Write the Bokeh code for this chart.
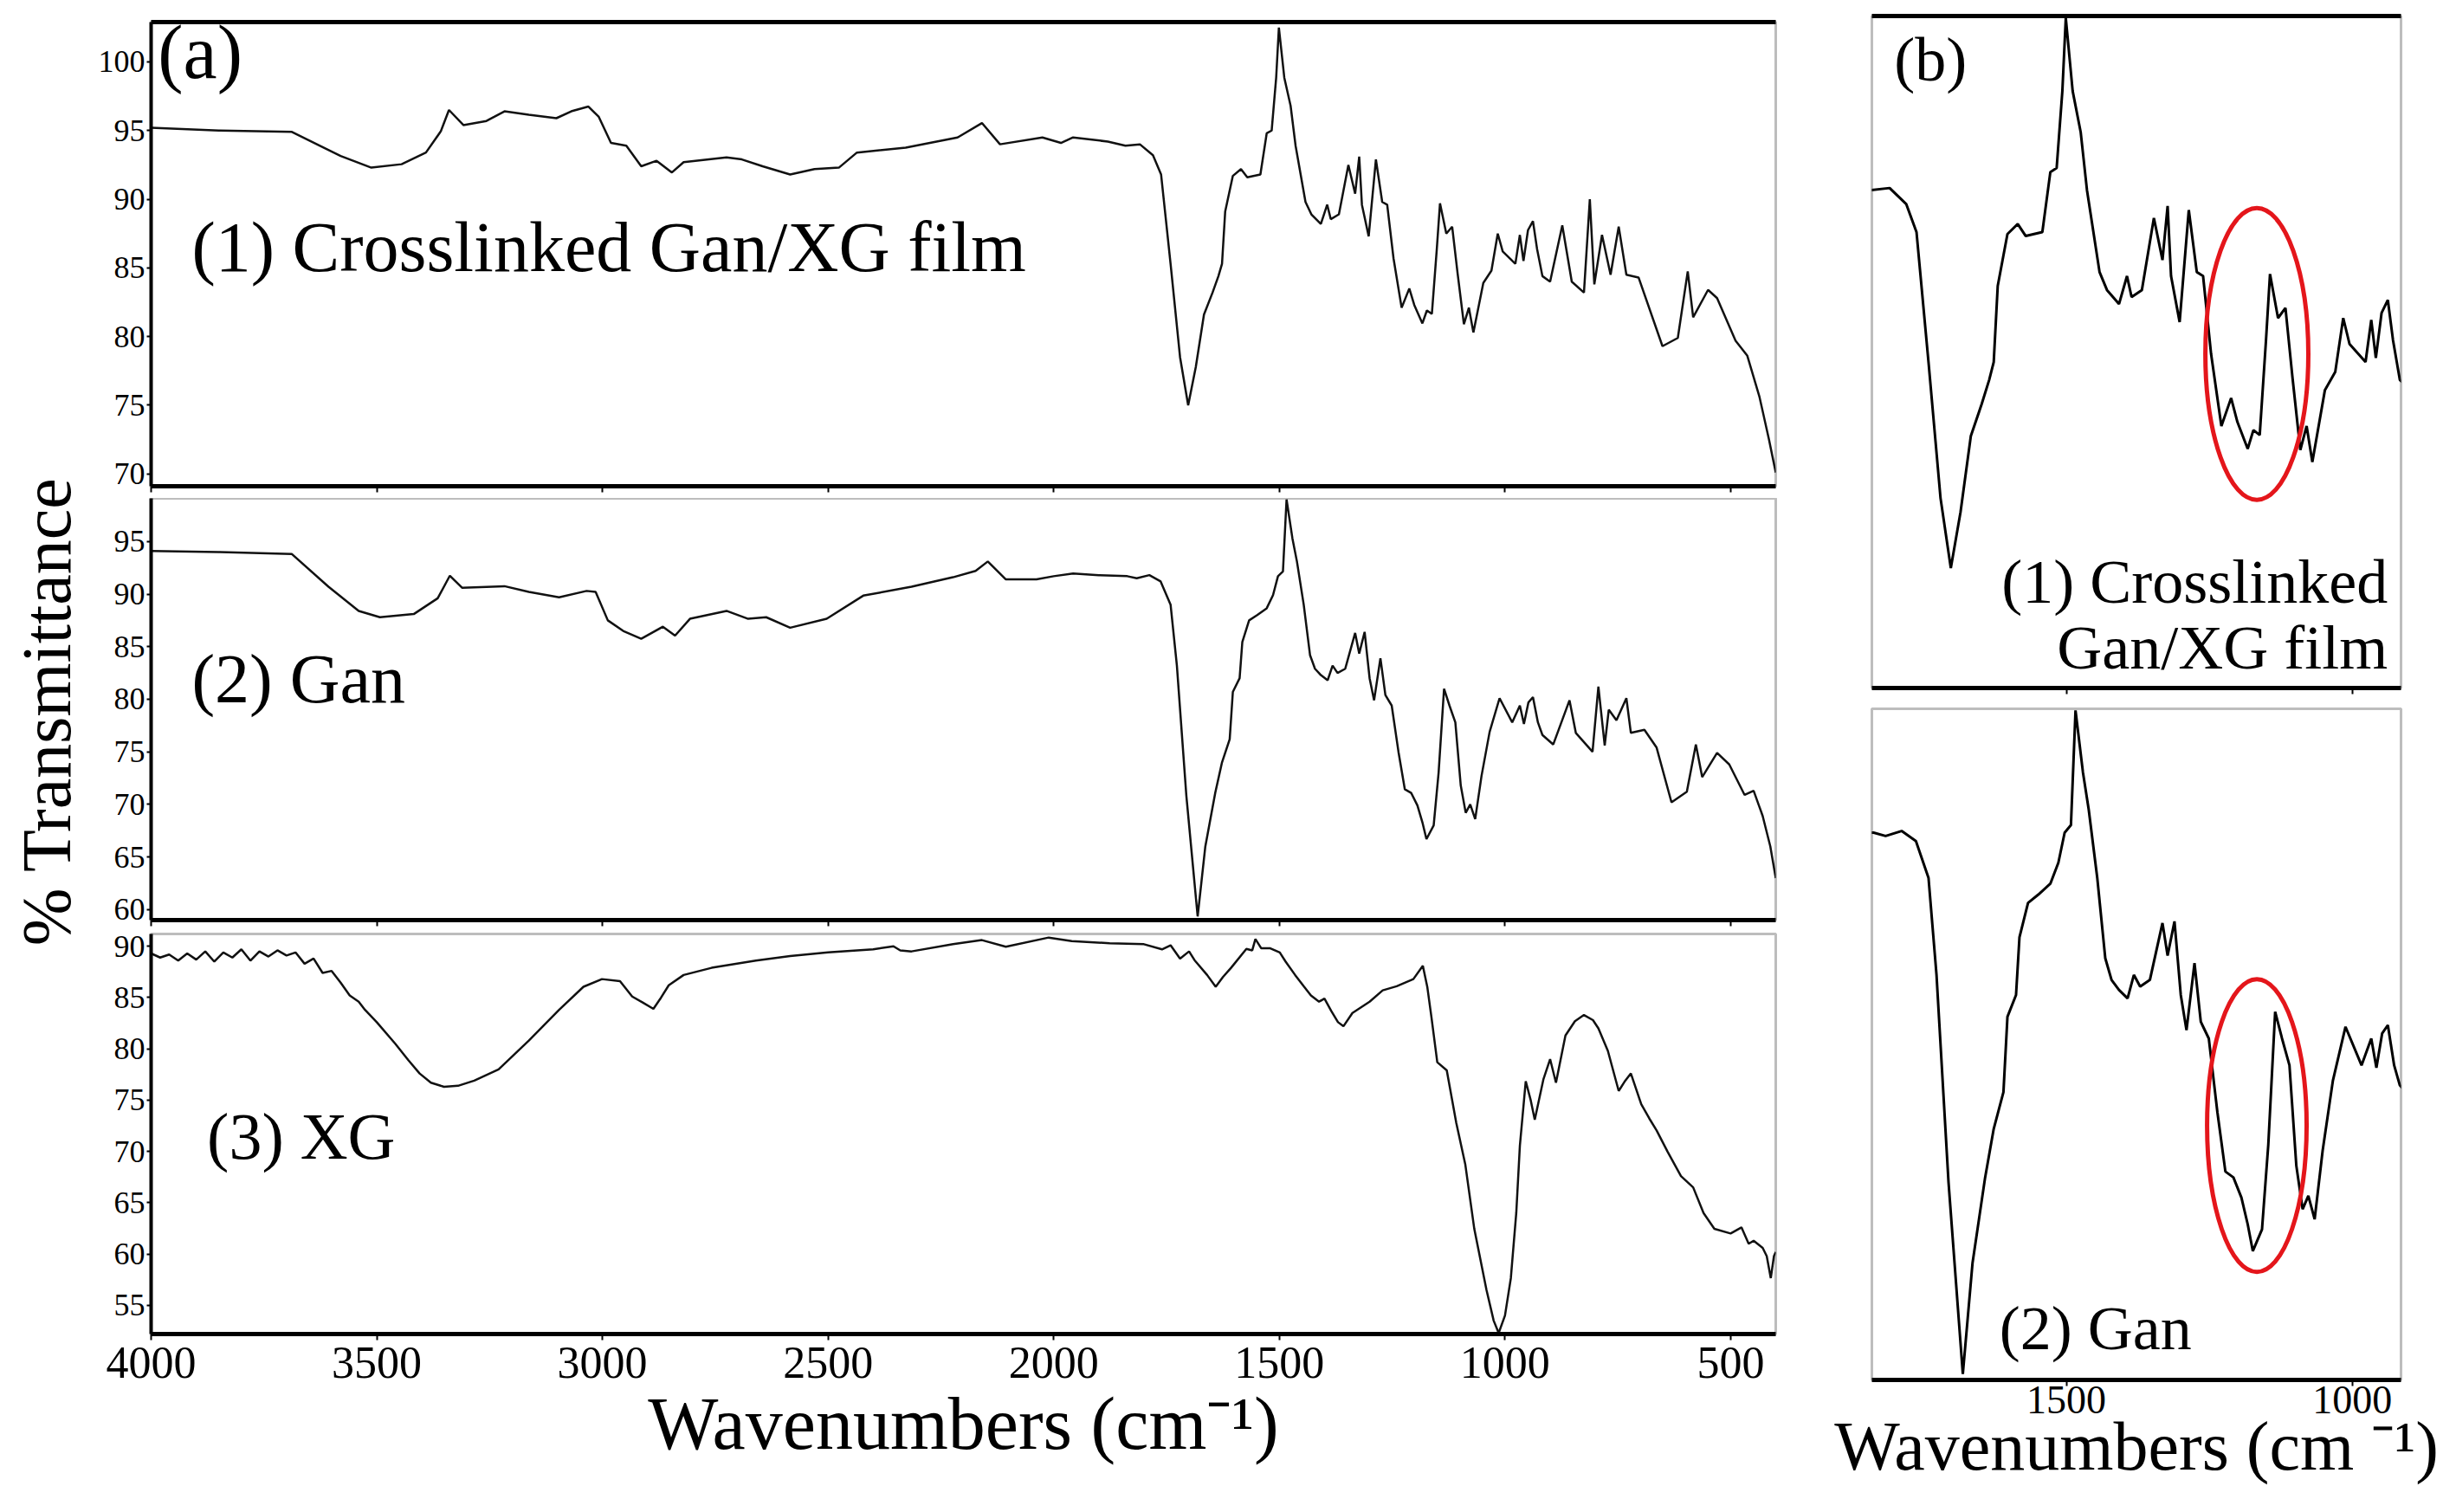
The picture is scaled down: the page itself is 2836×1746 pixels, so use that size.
import math
from bokeh.plotting import figure
from bokeh.layouts import row, column
from bokeh.models import Range1d, FixedTicker, LinearAxis, Label, CustomLabelingPolicy
from bokeh.embed import file_html
from bokeh.resources import INLINE

FONT = "Liberation Serif"

# ---------------- data ----------------
# (1) Crosslinked Gan/XG film
film_wn = [4000, 3850, 3688, 3620, 3580, 3512, 3445, 3391, 3358, 3340, 3308, 3257, 3217, 3163,
           3102, 3069, 3031, 3008, 2981, 2947, 2914, 2880, 2846, 2820, 2725, 2691, 2645, 2584,
           2530, 2476, 2436, 2328, 2213, 2159, 2119, 2025, 1984, 1957, 1880,
           1841, 1809, 1780, 1762, 1741, 1720, 1702, 1685, 1667, 1648, 1635, 1627, 1620, 1603,
           1585, 1571, 1542, 1528, 1517, 1507, 1501, 1489, 1475, 1464, 1442, 1429, 1408, 1394,
           1386, 1368, 1347, 1332, 1323, 1317, 1302, 1286, 1272, 1261, 1247, 1229, 1212, 1201,
           1183, 1173, 1162, 1151, 1144, 1130, 1117, 1105, 1091, 1080, 1070, 1048, 1030, 1016,
           1005, 977, 967, 959, 949, 938, 929, 917,
           900, 873, 852, 825, 812, 802, 785, 766, 748, 731, 704, 651, 617, 595, 583, 550, 530,
           489, 463, 436, 415, 400]
film_t = [95.2, 95.0, 94.9, 93.8, 93.15, 92.3, 92.55, 93.4, 94.95, 96.5, 95.4, 95.7, 96.4, 96.15,
          95.9, 96.4, 96.75, 96.0, 94.1, 93.9, 92.4, 92.8, 91.95, 92.7, 93.05, 92.9, 92.4, 91.8,
          92.2, 92.3, 93.4, 93.75, 94.5, 95.55, 94.0, 94.5, 94.1, 94.5, 94.2,
          93.9, 94.0, 93.2, 91.8, 85.3, 78.5, 75.0, 77.8, 81.6, 83.2, 84.4, 85.3, 89.1, 91.7,
          92.2, 91.6, 91.8, 94.8, 95.0, 98.85, 102.5, 98.85, 96.8, 93.9, 89.8, 88.9, 88.2, 89.6,
          88.55, 88.9, 92.5, 90.4, 93.1, 89.6, 87.3, 92.9, 89.8, 89.6, 85.7, 82.1, 83.5, 82.3,
          80.96, 81.9, 81.65, 86.4, 89.7, 87.5, 88.0, 84.6, 80.9, 82.1, 80.3, 83.9, 84.8, 87.5,
          86.2, 85.3, 87.4, 85.5, 87.75, 88.4, 86.4, 84.4,
          84.0, 88.1, 84.0, 83.2, 90.0, 83.8, 87.4, 84.5, 88.0, 84.5, 84.3, 79.3, 79.9, 84.75,
          81.4, 83.4, 82.8, 79.7, 78.6, 75.6, 72.5, 70.1]

# (2) Gan
gan_wn = [4000, 3850, 3688, 3607, 3540, 3493, 3418, 3365, 3338, 3311, 3217, 3163, 3096, 3035,
          3015, 2988, 2954, 2914, 2866, 2839, 2806, 2725, 2677, 2637, 2584, 2503, 2422, 2315,
          2223, 2173, 2146, 2106, 2038, 2000, 1957, 1900,
          1837, 1816, 1788, 1763, 1741, 1727, 1706, 1681, 1664, 1642, 1627, 1610, 1603, 1588,
          1582, 1567, 1549, 1528, 1514, 1503, 1492, 1484, 1471, 1461, 1446, 1432, 1421, 1408,
          1393, 1382, 1371, 1354, 1332, 1323, 1311, 1300, 1290, 1276, 1265, 1251, 1236, 1222,
          1208, 1194, 1183, 1174, 1158, 1147, 1135, 1123, 1110, 1098, 1087, 1077, 1066, 1052,
          1034, 1012, 984, 967, 958, 948, 938, 927, 917,
          893, 857, 843, 806, 793, 779, 770, 753, 731, 721, 691, 664, 631, 597, 577, 563, 530,
          503, 469, 449, 429, 412, 400]
gan_t = [94.1, 94.0, 93.8, 90.7, 88.4, 87.8, 88.1, 89.6, 91.75, 90.6, 90.75, 90.2, 89.7, 90.3,
         90.2, 87.5, 86.5, 85.75, 86.9, 86.05, 87.65, 88.4, 87.65, 87.8, 86.8, 87.65, 89.85, 90.7,
         91.6, 92.2, 93.1, 91.4, 91.4, 91.7, 91.95, 91.8,
         91.7, 91.5, 91.8, 91.2, 89.0, 83.2, 70.8, 59.35, 66.0, 71.1, 74.0, 76.2, 80.7, 82.0,
         85.45, 87.5, 88.0, 88.65, 89.9, 91.7, 92.15, 99.0, 95.3, 93.1, 89.0, 84.2, 82.9, 82.3,
         81.8, 83.2, 82.5, 82.9, 86.3, 84.35, 86.4, 82.0, 79.9, 83.9, 80.4, 79.4, 75.0, 71.45,
         71.1, 69.9, 68.3, 66.7, 68.0, 73.05, 81.0, 79.4, 77.8, 71.8, 69.2, 70.0, 68.6, 72.7,
         76.9, 80.1, 77.8, 79.4, 77.65, 79.7, 80.2, 77.8, 76.6,
         75.7, 79.9, 76.8, 75.0, 81.2, 75.6, 79.0, 78.0, 80.1, 76.8, 77.1, 75.4, 70.2, 71.2,
         75.7, 72.6, 74.9, 73.8, 70.9, 71.3, 68.9, 66.0, 63.0]

# (3) XG
xg_wn = [4000, 3980, 3960, 3940, 3920, 3900, 3880, 3860, 3840, 3820, 3800, 3780, 3760, 3740,
         3720, 3700, 3680, 3660, 3640, 3620, 3600, 3580, 3560, 3540, 3526, 3500, 3459, 3430,
         3405, 3380, 3351, 3320, 3284, 3230, 3163, 3096, 3042, 3001, 2961, 2934, 2910, 2887,
         2870, 2853, 2820, 2758, 2660, 2584, 2500, 2400, 2355, 2340, 2315, 2223, 2159, 2106,
         2011, 1960, 1876, 1800, 1760, 1741, 1720, 1700, 1688, 1660, 1641, 1625, 1607, 1573,
         1560, 1553, 1540, 1520, 1499, 1486, 1465, 1445, 1430, 1412, 1400, 1385, 1370, 1358,
         1338, 1300, 1271, 1240, 1203, 1182, 1172, 1163, 1150, 1129, 1108, 1088, 1068, 1041,
         1025, 1014, 1000, 987, 975, 967, 954, 943, 934, 915, 900, 887, 866, 845, 825, 805,
         793, 772, 748, 735, 721, 698, 680, 664, 640, 610, 583, 560, 536, 500, 476, 460, 449,
         429, 420, 411, 404, 400]
xg_t = [89.3, 88.9, 89.2, 88.6, 89.3, 88.7, 89.5, 88.5, 89.4, 88.9, 89.7, 88.6, 89.5, 89.0,
        89.6, 89.1, 89.4, 88.3, 88.8, 87.4, 87.6, 86.45, 85.2, 84.6, 83.8, 82.6, 80.5, 78.9,
        77.6, 76.7, 76.3, 76.4, 76.9, 78.0, 80.8, 83.8, 86.05, 86.8, 86.6, 85.1, 84.5, 83.9,
        85.0, 86.2, 87.2, 87.9, 88.6, 89.05, 89.4, 89.7, 90.0, 89.6, 89.5, 90.2, 90.6, 89.95,
        90.85, 90.5, 90.3, 90.2, 89.7, 90.1, 88.8, 89.5, 88.65, 87.2, 86.05, 87.0, 87.9, 89.75,
        89.6, 90.7, 89.8, 89.8, 89.4, 88.5, 87.2, 86.05, 85.2, 84.6, 84.9, 83.7, 82.6, 82.2,
        83.5, 84.6, 85.7, 86.1, 86.8, 88.1, 86.0, 83.1, 78.7, 77.9, 72.8, 68.75, 62.45, 56.5,
        53.5, 52.3, 54.0, 57.65, 64.0, 70.55, 76.85, 75.0, 73.1, 77.0, 79.0, 76.7, 81.3, 82.7,
        83.3, 82.8, 82.0, 79.8, 75.9, 76.8, 77.6, 74.6, 73.2, 72.05, 70.0, 67.6, 66.5, 64.0,
        62.45, 62.0, 62.6, 61.0, 61.3, 60.6, 59.8, 57.65, 59.8, 60.2]

x_ticks_a = [4000, 3500, 3000, 2500, 2000, 1500, 1000, 500]
x_ticks_b = [1500, 1000]
y_ticks_1 = [70, 75, 80, 85, 90, 95, 100]
y_ticks_2 = [60, 65, 70, 75, 80, 85, 90, 95]
y_ticks_3 = [55, 60, 65, 70, 75, 80, 85, 90]

# red highlight ellipses in panel (b): center wavenumber, center %T, width, height
ell1 = dict(x=1167, y=85.7, w=180, h=14.6)
ell2 = dict(x=1167, y=74.2, w=174, h=17.5)

HIDE_LABELS = CustomLabelingPolicy(code="return []")


def make_fig(w, h, xr, yr, left, right, top, bottom):
    p = figure(width=w, height=h, x_range=Range1d(*xr), y_range=Range1d(*yr),
               output_backend="svg", toolbar_location=None,
               min_border_left=left, min_border_right=right,
               min_border_top=top, min_border_bottom=bottom)
    p.grid.visible = False
    p.outline_line_color = "#bdbdbd"
    p.outline_line_width = 3
    p.background_fill_color = "white"
    p.border_fill_color = "white"
    return p


def style_x(ax, ticks, size, show=True, standoff=2):
    ax.ticker = FixedTicker(ticks=ticks)
    ax.axis_line_color = "black"
    ax.axis_line_width = 5
    ax.major_tick_line_color = "black"
    ax.major_tick_line_width = 2
    ax.major_tick_in = 0
    ax.major_tick_out = 7
    ax.minor_tick_line_color = None
    ax.major_label_text_font = FONT
    ax.major_label_text_font_size = size
    ax.major_label_text_color = "black"
    ax.major_label_standoff = standoff
    if not show:
        ax.major_label_policy = HIDE_LABELS
        ax.major_label_standoff = 0


def style_y(ax, ticks):
    ax.ticker = FixedTicker(ticks=ticks)
    ax.axis_line_color = "black"
    ax.axis_line_width = 4
    ax.major_tick_line_color = "black"
    ax.major_tick_line_width = 2
    ax.major_tick_in = 0
    ax.major_tick_out = 5
    ax.minor_tick_line_color = None
    ax.major_label_text_font = FONT
    ax.major_label_text_font_size = "36px"
    ax.major_label_text_color = "black"
    ax.major_label_standoff = 2


def top_line(p):
    ax = LinearAxis(ticker=FixedTicker(ticks=[]), axis_line_width=5, axis_line_color="black",
                    major_label_text_font_size="1px", major_tick_in=0, major_tick_out=0,
                    minor_tick_in=0, minor_tick_out=0)
    p.add_layout(ax, "above")


def label(p, x, y, text, size, align="left"):
    p.add_layout(Label(x=x, y=y, text=text, text_font=FONT, text_font_size=size,
                       text_align=align, text_baseline="alphabetic", text_color="black"))


def x_title(ax, text, size, standoff):
    ax.axis_label = text
    ax.axis_label_text_font = FONT
    ax.axis_label_text_font_size = size
    ax.axis_label_text_font_style = "normal"
    ax.axis_label_text_color = "black"
    ax.axis_label_standoff = standoff


# ---------------- shared y-axis title ----------------
ylab = figure(width=110, height=1738, x_range=Range1d(0, 1), y_range=Range1d(0, 1),
              output_backend="svg", toolbar_location=None, min_border=0)
ylab.axis.visible = False
ylab.grid.visible = False
ylab.outline_line_color = None
ylab.add_layout(Label(x=0.49, y=0.5276, text="% Transmittance", angle=math.pi / 2,
                      text_font=FONT, text_font_size="80px", text_align="center",
                      text_baseline="middle", text_color="black"))

# ---------------- panel (a) ----------------
XA = (4000, 400)
WA = 1990
a1 = make_fig(WA, 575, XA, (69.1, 102.9), 64, 50, 25, 14)
a1.line(film_wn, film_t, line_color="#111111", line_width=2.5)
style_x(a1.xaxis[0], x_ticks_a, "1px", show=False)
style_y(a1.yaxis[0], y_ticks_1)
top_line(a1)
label(a1, 3985, 100.7, "(a)", "88px")
label(a1, 3910, 86.5, "(1) Crosslinked Gan/XG film", "82px")

a2 = make_fig(WA, 498, XA, (59.0, 99.1), 64, 50, 0, 9)
a2.line(gan_wn, gan_t, line_color="#111111", line_width=2.5)
style_x(a2.xaxis[0], x_ticks_a, "1px", show=False)
style_y(a2.yaxis[0], y_ticks_2)
label(a2, 3910, 81.9, "(2) Gan", "80px")

a3 = make_fig(WA, 665, XA, (52.2, 91.2), 64, 50, 5, 198)
a3.line(xg_wn, xg_t, line_color="#111111", line_width=2.5)
style_x(a3.xaxis[0], x_ticks_a, "52px", standoff=8)
style_y(a3.yaxis[0], y_ticks_3)
x_title(a3.xaxis[0], "Wavenumbers (cm\u207b\u00b9)", "86px", 2)
label(a3, 3876, 71.5, "(3) XG", "76px")

# ---------------- panel (b) ----------------
XB = (1840, 915)
b1 = make_fig(728, 816, XB, (69.0, 102.6), 61, 56, 18, 22)
b1.line(film_wn, film_t, line_color="black", line_width=3)
b1.ellipse(x=[ell1["x"]], y=[ell1["y"]], width=ell1["w"], height=ell1["h"],
           fill_color=None, line_color="#e4161b", line_width=5)
style_x(b1.xaxis[0], x_ticks_b, "1px", show=False)
b1.yaxis.visible = False
top_line(b1)
label(b1, 1801, 100.4, "(b)", "72px")
label(b1, 938, 74.3, "(1) Crosslinked", "72px", "right")
label(b1, 938, 71.0, "Gan/XG film", "72px", "right")

b2 = make_fig(728, 928, XB, (59.0, 99.1), 61, 56, 2, 151)
b2.line(gan_wn, gan_t, line_color="black", line_width=3)
b2.ellipse(x=[ell2["x"]], y=[ell2["y"]], width=ell2["w"], height=ell2["h"],
           fill_color=None, line_color="#e4161b", line_width=5)
style_x(b2.xaxis[0], x_ticks_b, "46px", standoff=0)
b2.yaxis.visible = False
x_title(b2.xaxis[0], "Wavenumbers (cm \u207b\u00b9)", "80px", -9)
label(b2, 1617, 62.1, "(2) Gan", "72px")

layout = row(ylab, column(a1, a2, a3, spacing=0), column(b1, b2, spacing=0), spacing=0)

with open("out.html", "w") as f:
    f.write(file_html(layout, INLINE))
